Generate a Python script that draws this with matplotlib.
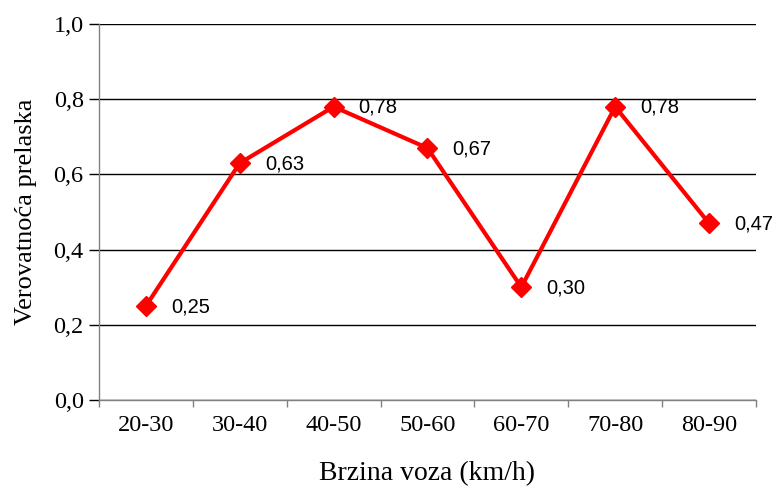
import matplotlib.pyplot as plt
from matplotlib.ticker import FixedLocator, FuncFormatter

# Speed ranges and crossing probability
categories = ["20-30", "30-40", "40-50", "50-60", "60-70", "70-80", "80-90"]
probability = [0.25, 0.63, 0.78, 0.67, 0.30, 0.78, 0.47]

serif = "Liberation Serif"
sans = "Liberation Sans"

fig = plt.figure(figsize=(7.74, 4.86), dpi=100)
ax = fig.add_axes([0.1279, 0.177, 0.8488, 0.7736])

x = list(range(len(categories)))
ax.plot(x, probability, color="#ff0000", linewidth=3, marker="D",
        markersize=10, zorder=3, clip_on=False)

for xi, v in zip(x, probability):
    ax.annotate(f"{v:.2f}".replace(".", ","), (xi, v), xytext=(18, -0.5),
                textcoords="offset points", ha="left", va="center",
                fontsize=14.5, fontfamily=sans)

ax.set_xlim(-0.5, len(categories) - 0.5)
ax.set_ylim(0, 1.0)
ax.set_yticks([0, 0.2, 0.4, 0.6, 0.8, 1.0])
ax.yaxis.set_major_formatter(FuncFormatter(lambda v, _: f"{v:.1f}".replace(".", ",")))
ax.yaxis.grid(True, color="black", linewidth=1)
ax.set_axisbelow(True)

ax.set_xticks(x)
ax.set_xticklabels(categories)
ax.xaxis.set_minor_locator(FixedLocator([i - 0.5 for i in range(len(categories) + 1)]))
ax.tick_params(axis="x", which="major", length=0, pad=11)
ax.tick_params(axis="x", which="minor", length=5, color="#808080", width=1)
ax.tick_params(axis="y", length=7, color="black", width=1, pad=4)

for lbl in ax.get_xticklabels() + ax.get_yticklabels():
    lbl.set_fontfamily(serif)
    lbl.set_fontsize(17.5)

for side in ("top", "right"):
    ax.spines[side].set_visible(False)
for side in ("left", "bottom"):
    ax.spines[side].set_color("#808080")
    ax.spines[side].set_linewidth(1)

ax.set_xlabel("Brzina voza (km/h)", fontfamily=serif, fontsize=20, labelpad=18)
ax.set_ylabel("Verovatnoća prelaska", fontfamily=serif, fontsize=19, labelpad=12)

fig.savefig("out.png", dpi=100)
